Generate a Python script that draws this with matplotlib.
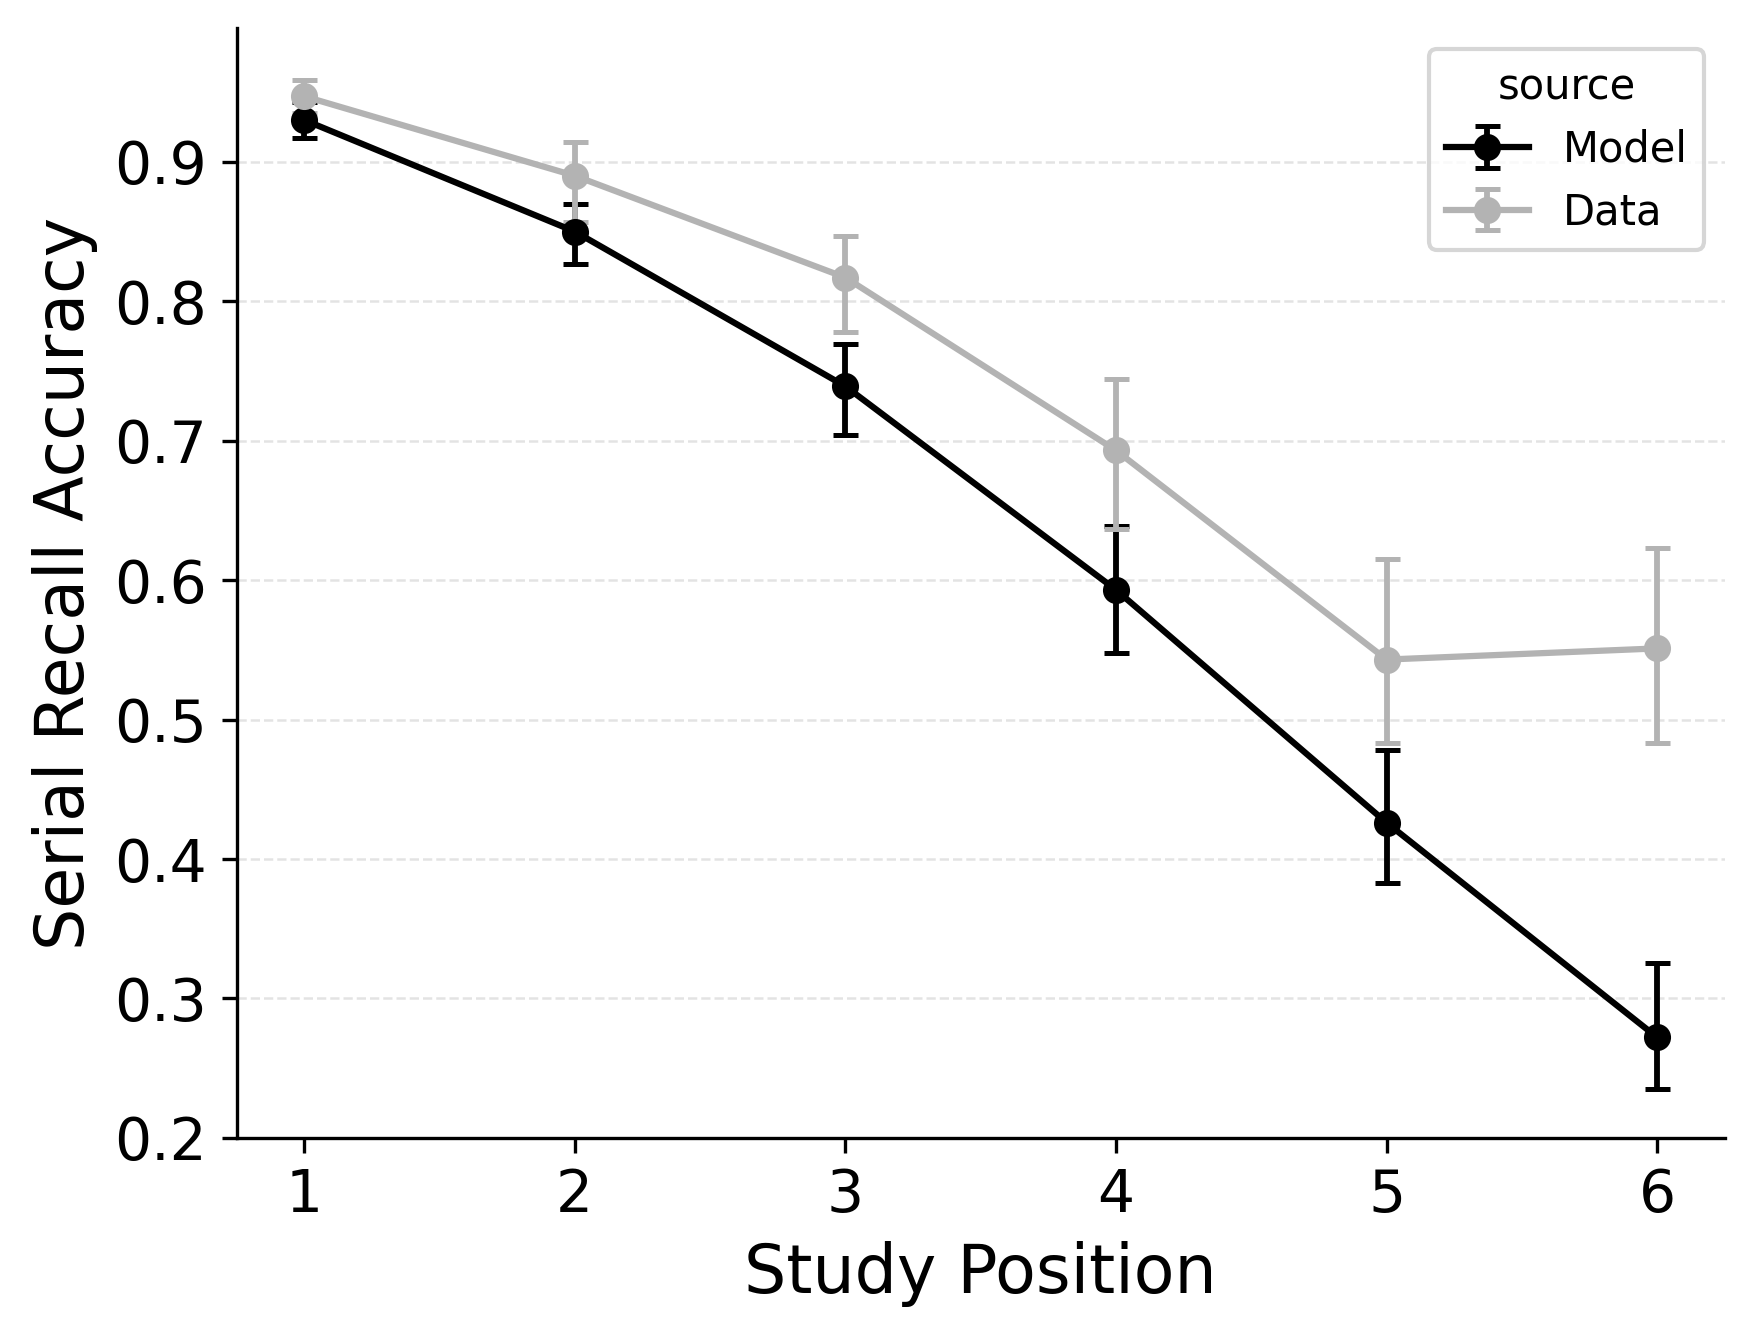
import matplotlib
matplotlib.use("Agg")
import matplotlib.pyplot as plt
import numpy as np

positions = [1, 2, 3, 4, 5, 6]
model_mean = [0.930, 0.850, 0.739, 0.593, 0.426, 0.272]
model_low = [0.917, 0.827, 0.704, 0.548, 0.383, 0.235]
model_high = [0.943, 0.870, 0.769, 0.639, 0.478, 0.325]
data_mean = [0.947, 0.890, 0.817, 0.693, 0.543, 0.551]
data_low = [0.935, 0.857, 0.778, 0.637, 0.483, 0.483]
data_high = [0.959, 0.914, 0.847, 0.744, 0.615, 0.623]
yticks = [0.2, 0.3, 0.4, 0.5, 0.6, 0.7, 0.8, 0.9]

fig = plt.figure(figsize=(5.84, 4.457), dpi=300)
ax = fig.add_axes([0.135, 0.149, 0.8495, 0.830])

series = [("Model", model_mean, model_low, model_high, "black"),
          ("Data", data_mean, data_low, data_high, "#b3b3b3")]
for name, m, lo, hi, col in series:
    m = np.array(m); lo = np.array(lo); hi = np.array(hi)
    ax.errorbar(positions, m, yerr=[m - lo, hi - m], color=col, marker="o",
                markersize=5.5, linewidth=1.5, elinewidth=1.4, capsize=3,
                capthick=1.2, label=name)

ax.set_xlim(0.75, 6.25)
ax.set_ylim(0.2, 0.996)
ax.set_xticks(positions)
ax.set_yticks(yticks)
ax.set_yticklabels([f"{v:.1f}" for v in yticks])
ax.tick_params(labelsize=14)
ax.set_xlabel("Study Position", fontsize=16)
ax.set_ylabel("Serial Recall Accuracy", fontsize=16)
ax.spines["top"].set_visible(False)
ax.spines["right"].set_visible(False)
ax.yaxis.grid(True, linestyle="--", color="#dddddd", linewidth=0.6, alpha=0.8)
ax.set_axisbelow(True)
leg = ax.legend(title="source", loc="upper right", fontsize=10, title_fontsize=10)

fig.savefig("out.png", dpi=300)
